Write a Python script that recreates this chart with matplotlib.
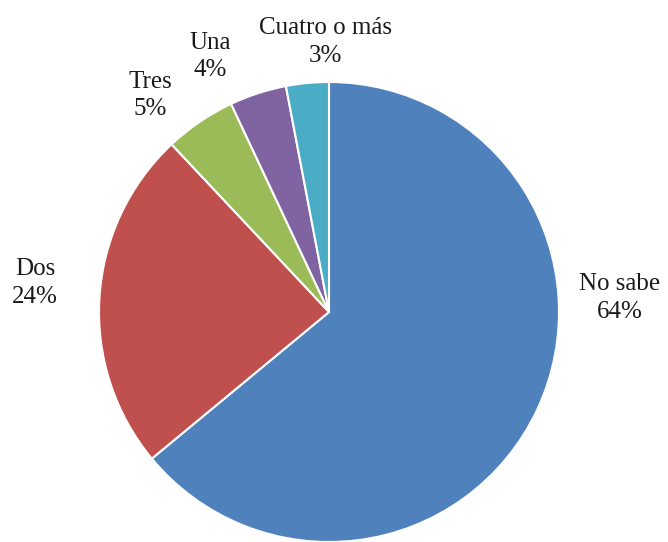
import matplotlib.pyplot as plt

labels = ['No sabe', 'Dos', 'Tres', 'Una', 'Cuatro o más']
values = [64, 24, 5, 4, 3]
colors = ['#4f81bd', '#c0504d', '#9bbb59', '#8064a2', '#4bacc6']

# label centres in pie-radius units
label_pos = [(1.265, 0.061), (-1.278, 0.126), (-0.778, 0.943),
             (-0.517, 1.109), (-0.017, 1.174)]

plt.rcParams['font.family'] = ['Liberation Serif', 'DejaVu Serif']

fig = plt.figure(figsize=(6.68, 5.42), dpi=100)
ax = fig.add_axes([0, 0, 1, 1])

ax.pie(values, colors=colors, startangle=90, counterclock=False,
       radius=1.0, wedgeprops=dict(edgecolor='white', linewidth=1.5))

for name, v, (x, y) in zip(labels, values, label_pos):
    ax.text(x, y, f'{name}\n{v}%', ha='center', va='center',
            fontsize=18, linespacing=1.3, color='#1a1a1a')

ax.set_aspect('equal')
ax.set_xlim(-329 / 230, (668 - 329) / 230)
ax.set_ylim(-(542 - 312) / 230, 312 / 230)
ax.axis('off')

fig.savefig('out.png', dpi=100)
